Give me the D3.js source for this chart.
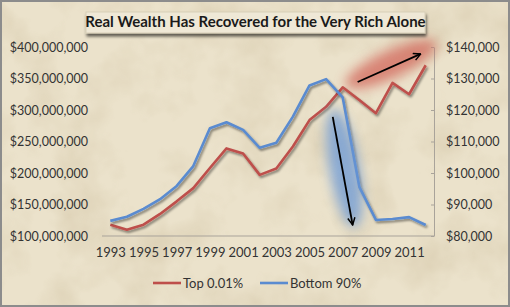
<!DOCTYPE html>
<html>
<head>
<meta charset="utf-8">
<script src="https://cdn.jsdelivr.net/npm/d3@7"></script>
<style>
  html, body { margin: 0; padding: 0; background: #fff; }
  svg { display: block; font-family: Lato, "Open Sans", sans-serif; }
</style>
</head>
<body>
<div class="chart"></div>
<script>
// values
const years = [1993, 1994, 1995, 1996, 1997, 1998, 1999, 2000, 2001, 2002,
               2003, 2004, 2005, 2006, 2007, 2008, 2009, 2010, 2011, 2012];
const top001 = [118e6, 110e6, 118e6, 135e6, 155e6, 176e6, 208e6, 239e6, 231e6, 197e6,
                207e6, 242e6, 284e6, 305e6, 336e6, 316e6, 295e6, 343e6, 325e6, 371e6];
const bottom90 = [84800, 86100, 88600, 91700, 95900, 102200, 114200, 116100, 113700, 108000,
                  109600, 117900, 127800, 129800, 124000, 95600, 85100, 85400, 86000, 83500];
const yearTicks = [1993, 1995, 1997, 1999, 2001, 2003, 2005, 2007, 2009, 2011];
const leftTicks = [100e6, 150e6, 200e6, 250e6, 300e6, 350e6, 400e6];
const rightTicks = [80000, 90000, 100000, 110000, 120000, 130000, 140000];
const seriesNames = ["Top 0.01%", "Bottom 90%"];

(function(){
    const svgWidth = 510, svgHeight = 307;
    const plot = { left: 102, right: 434, top: 47, bottom: 236 };
    const red = "#be4f4b", blue = "#5a8bd0", ink = "#333";

    const svg = d3.select(".chart").append("svg")
        .attr("width", svgWidth)
        .attr("height", svgHeight);

    const defs = svg.append("defs");

    // parchment texture
    const paper = defs.append("filter").attr("id", "paper")
        .attr("x", 0).attr("y", 0).attr("width", "100%").attr("height", "100%");
    paper.append("feTurbulence").attr("type", "fractalNoise")
        .attr("baseFrequency", "0.018").attr("numOctaves", 4).attr("seed", 7).attr("result", "n");
    paper.append("feColorMatrix").attr("in", "n").attr("type", "matrix")
        .attr("values", "0 0 0 0 0.55  0 0 0 0 0.45  0 0 0 0 0.28  0 0 0 -1.3 0.75")
        .attr("result", "c");
    paper.append("feComposite").attr("in", "c").attr("in2", "SourceGraphic").attr("operator", "in");

    const shadow = defs.append("filter").attr("id", "shadow")
        .attr("x", "-10%").attr("y", "-10%").attr("width", "120%").attr("height", "130%");
    shadow.append("feDropShadow").attr("dx", 1.5).attr("dy", 2).attr("stdDeviation", 1)
        .attr("flood-color", "#000").attr("flood-opacity", 0.45);

    const boxShadow = defs.append("filter").attr("id", "boxShadow")
        .attr("x", "-5%").attr("y", "-20%").attr("width", "110%").attr("height", "160%");
    boxShadow.append("feDropShadow").attr("dx", 1).attr("dy", 3).attr("stdDeviation", 1.5)
        .attr("flood-color", "#000").attr("flood-opacity", 0.6);

    const glow = defs.append("filter").attr("id", "glow")
        .attr("x", "-50%").attr("y", "-50%").attr("width", "200%").attr("height", "200%");
    glow.append("feGaussianBlur").attr("stdDeviation", 6);

    defs.append("marker").attr("id", "head")
        .attr("viewBox", "0 0 10 10").attr("refX", 9).attr("refY", 5)
        .attr("markerWidth", 5).attr("markerHeight", 5).attr("orient", "auto")
        .attr("markerUnits", "strokeWidth")
        .append("path").attr("d", "M1,1 L9,5 L1,9")
        .attr("fill", "none").attr("stroke", "#000").attr("stroke-width", 1.6);

    // background
    svg.append("rect").attr("width", svgWidth).attr("height", svgHeight).attr("fill", "#ebe2cb");
    svg.append("rect").attr("width", svgWidth).attr("height", svgHeight)
        .attr("fill", "#fff").attr("filter", "url(#paper)").attr("opacity", 0.55);
    svg.append("rect").attr("x", 1).attr("y", 1).attr("width", svgWidth - 2).attr("height", svgHeight - 2)
        .attr("fill", "none").attr("stroke", "#8c8c8c").attr("stroke-width", 2);

    // scales
    const x = d3.scalePoint().domain(years).range([plot.left, plot.right]).padding(0.5);
    const xLin = d3.scaleLinear().domain([years[0], years[years.length - 1]])
        .range([x(years[0]), x(years[years.length - 1])]);
    const yLeft = d3.scaleLinear().domain([100e6, 400e6]).range([plot.bottom, plot.top]);
    const yRight = d3.scaleLinear().domain([80000, 140000]).range([plot.bottom, plot.top]);

    // axes
    const fmt = d3.format("$,");
    const leftAxis = svg.append("g").attr("transform", `translate(${plot.left},0)`)
        .call(d3.axisLeft(yLeft).tickValues(leftTicks).tickFormat(fmt).tickSize(0).tickPadding(14));
    const rightAxis = svg.append("g").attr("transform", `translate(${plot.right},0)`)
        .call(d3.axisRight(yRight).tickValues(rightTicks).tickFormat(fmt).tickSizeInner(-3).tickSizeOuter(0).tickPadding(12));
    const bottomAxis = svg.append("g").attr("transform", `translate(0,${plot.bottom})`)
        .call(d3.axisBottom(x).tickValues(yearTicks).tickSize(0).tickPadding(12));

    leftAxis.select(".domain").remove();
    [leftAxis, rightAxis, bottomAxis].forEach(g => {
        g.selectAll("text").attr("fill", ink).style("font-size", "12.5px").style("font-family", "Lato, sans-serif");
        g.selectAll(".domain, line").attr("stroke", "#a9a39a");
    });
    bottomAxis.selectAll("text").style("font-size", "13px");
    bottomAxis.select(".domain").attr("d", `M${plot.left},0H${plot.right}`);

    // annotation glows (drawn under the lines)
    const ann = svg.append("g");
    ann.append("ellipse")
        .attr("cx", xLin(2009.9)).attr("cy", yRight(134500))
        .attr("rx", 50).attr("ry", 14)
        .attr("transform", `rotate(-25, ${xLin(2009.9)}, ${yRight(134500)})`)
        .attr("fill", "#d2665a").attr("opacity", 0.75).attr("filter", "url(#glow)");
    ann.append("ellipse")
        .attr("cx", xLin(2007.1)).attr("cy", yRight(101500))
        .attr("rx", 15).attr("ry", 60)
        .attr("transform", `rotate(-10, ${xLin(2007.1)}, ${yRight(101500)})`)
        .attr("fill", "#6b98d6").attr("opacity", 0.75).attr("filter", "url(#glow)");

    // lines
    const redLine = d3.line().x((d, i) => x(years[i])).y(d => yLeft(d));
    const blueLine = d3.line().x((d, i) => x(years[i])).y(d => yRight(d));

    svg.append("path").datum(top001)
        .attr("d", redLine).attr("fill", "none").attr("stroke", red)
        .attr("stroke-width", 2.6).attr("stroke-linejoin", "round").attr("filter", "url(#shadow)");
    svg.append("path").datum(bottom90)
        .attr("d", blueLine).attr("fill", "none").attr("stroke", blue)
        .attr("stroke-width", 2.6).attr("stroke-linejoin", "round").attr("filter", "url(#shadow)");

    // arrows
    ann.raise();
    ann.append("line")
        .attr("x1", xLin(2007.9)).attr("y1", yRight(128900))
        .attr("x2", xLin(2011.7)).attr("y2", yRight(137800))
        .attr("stroke", "#000").attr("stroke-width", 1.8).attr("marker-end", "url(#head)");
    ann.append("line")
        .attr("x1", xLin(2006.4)).attr("y1", yRight(117800))
        .attr("x2", xLin(2007.6)).attr("y2", yRight(83500))
        .attr("stroke", "#000").attr("stroke-width", 1.8).attr("marker-end", "url(#head)");
    ann.selectAll("ellipse").lower();

    // title
    const title = svg.append("g");
    title.append("rect").attr("x", 86).attr("y", 12).attr("width", 339).attr("height", 21)
        .attr("fill", "#efe8d6").attr("stroke", "#d8cfb8").attr("filter", "url(#boxShadow)");
    title.append("text").attr("x", 255.5).attr("y", 27)
        .attr("text-anchor", "middle").attr("fill", "#1a1a1a")
        .style("font-size", "15px").style("font-weight", "bold")
        .text("Real Wealth Has Recovered for the Very Rich Alone");

    // legend
    const legend = svg.append("g").attr("transform", "translate(0,283)");
    const items = [{ name: seriesNames[0], color: red, x: 153 }, { name: seriesNames[1], color: blue, x: 260 }];
    items.forEach(it => {
        legend.append("line").attr("x1", it.x).attr("x2", it.x + 28).attr("y1", 0).attr("y2", 0)
            .attr("stroke", it.color).attr("stroke-width", 2.6);
        legend.append("text").attr("x", it.x + 30).attr("y", 0).attr("dy", "0.35em")
            .attr("fill", ink).style("font-size", "13px").text(it.name);
    });
})();
</script>
</body>
</html>
